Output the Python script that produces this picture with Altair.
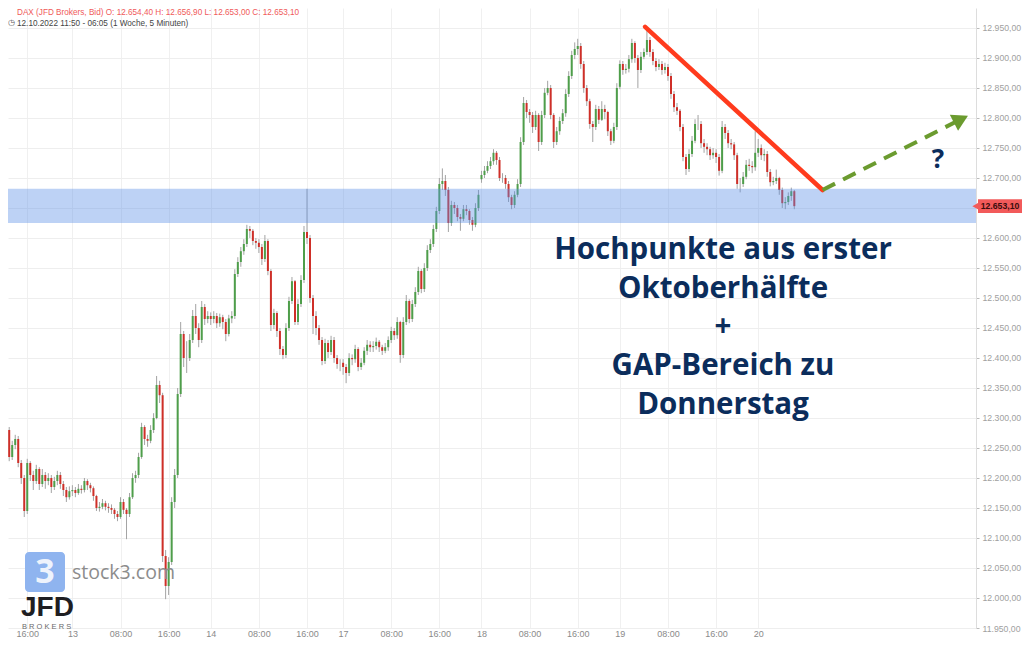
import json
import altair as alt
import pandas as pd

# ---------------- data ----------------
# trading-hour index: 0 = Thu 13.10 00:00, 30-minute candles
day_start_t = [-11.0, 0.0, 23.0, 45.0, 68.0, 91.0, 114.0]
day_open = [12300, 12178, 12470, 12392, 12698, 12852, 12742]

# (close, high, low) per 30-minute candle
bars12 = [(12280, 12305, 12272), (12235, 12285, 12228), (12255, 12262, 12230), (12265, 12272, 12248),
          (12225, 12270, 12218), (12200, 12230, 12190), (12145, 12205, 12135), (12225, 12232, 12140),
          (12205, 12228, 12195), (12195, 12212, 12180), (12215, 12222, 12190), (12190, 12218, 12180),
          (12205, 12215, 12185), (12195, 12210, 12182), (12200, 12208, 12188), (12185, 12205, 12175),
          (12195, 12202, 12180), (12205, 12212, 12188), (12190, 12210, 12182), (12180, 12195, 12170),
          (12168, 12185, 12160), (12178, 12186, 12164)]
bars13 = [(12180, 12188, 12170), (12175, 12185, 12168), (12182, 12190, 12172), (12180, 12188, 12174),
          (12195, 12200, 12176), (12188, 12198, 12180), (12183, 12192, 12176), (12170, 12186, 12162),
          (12150, 12172, 12145), (12152, 12160, 12144), (12158, 12165, 12148), (12152, 12162, 12146),
          (12150, 12158, 12142), (12147, 12156, 12140), (12140, 12150, 12132), (12135, 12145, 12128),
          (12160, 12168, 12132), (12147, 12165, 12140), (12140, 12150, 12098), (12168, 12175, 12135),
          (12200, 12208, 12165), (12205, 12212, 12192), (12235, 12242, 12200), (12285, 12292, 12232),
          (12265, 12288, 12255), (12262, 12272, 12252), (12280, 12288, 12258), (12300, 12308, 12275),
          (12355, 12370, 12298), (12338, 12362, 12325), (12070, 12342, 12060), (12020, 12080, 11998),
          (12060, 12068, 12005), (12160, 12168, 12055), (12205, 12215, 12150), (12340, 12350, 12200),
          (12440, 12460, 12335), (12400, 12445, 12385), (12400, 12428, 12375), (12430, 12440, 12395),
          (12470, 12480, 12425), (12450, 12490, 12440), (12430, 12458, 12418), (12485, 12495, 12425),
          (12465, 12490, 12455), (12470, 12478, 12458)]
bars14 = [(12465, 12476, 12455), (12470, 12478, 12458), (12458, 12475, 12450), (12468, 12474, 12452),
          (12460, 12472, 12448), (12440, 12465, 12428), (12466, 12472, 12436), (12470, 12478, 12458),
          (12540, 12548, 12465), (12560, 12568, 12535), (12578, 12585, 12552), (12590, 12598, 12572),
          (12615, 12622, 12585), (12612, 12620, 12600), (12595, 12615, 12588), (12592, 12600, 12582),
          (12585, 12598, 12575), (12565, 12590, 12555), (12595, 12605, 12560), (12545, 12598, 12538),
          (12455, 12548, 12445), (12475, 12482, 12448), (12445, 12478, 12435), (12415, 12450, 12405),
          (12405, 12420, 12398), (12450, 12458, 12400), (12495, 12502, 12445), (12528, 12535, 12490),
          (12460, 12530, 12455), (12490, 12498, 12455), (12530, 12538, 12485), (12610, 12620, 12525),
          (12600, 12682, 12590), (12500, 12605, 12492), (12470, 12505, 12440), (12450, 12478, 12438),
          (12430, 12455, 12422), (12395, 12435, 12388), (12425, 12432, 12390), (12410, 12430, 12400),
          (12430, 12437, 12405), (12400, 12435, 12392), (12390, 12405, 12382), (12390, 12398, 12378)]
bars17 = [(12385, 12398, 12372), (12375, 12390, 12358), (12400, 12408, 12370), (12398, 12406, 12388),
          (12415, 12422, 12392), (12385, 12418, 12378), (12392, 12400, 12380), (12412, 12418, 12388),
          (12422, 12430, 12405), (12418, 12428, 12410), (12420, 12428, 12410), (12427, 12434, 12414),
          (12418, 12430, 12410), (12412, 12422, 12405), (12418, 12425, 12408), (12430, 12436, 12412),
          (12445, 12452, 12425), (12438, 12450, 12430), (12460, 12468, 12432), (12405, 12462, 12392),
          (12460, 12468, 12400), (12495, 12505, 12455), (12465, 12498, 12458), (12490, 12497, 12460),
          (12510, 12518, 12485), (12545, 12552, 12505), (12515, 12548, 12508), (12550, 12558, 12510),
          (12580, 12588, 12545), (12590, 12598, 12575), (12615, 12622, 12585), (12645, 12652, 12610),
          (12690, 12700, 12640), (12695, 12716, 12680), (12680, 12705, 12670), (12625, 12685, 12610),
          (12655, 12662, 12620), (12650, 12660, 12640), (12635, 12655, 12628), (12632, 12640, 12612),
          (12648, 12655, 12628), (12645, 12655, 12638), (12630, 12648, 12622), (12622, 12635, 12612),
          (12650, 12658, 12618), (12672, 12680, 12645)]
bars18 = [(12705, 12712, 12692), (12712, 12720, 12700), (12720, 12728, 12708), (12728, 12735, 12715),
          (12742, 12748, 12722), (12730, 12745, 12722), (12700, 12735, 12695), (12700, 12708, 12692),
          (12690, 12705, 12682), (12668, 12695, 12660), (12655, 12672, 12648), (12672, 12678, 12650),
          (12690, 12698, 12668), (12760, 12768, 12685), (12825, 12835, 12755), (12810, 12830, 12800),
          (12805, 12815, 12792), (12785, 12810, 12775), (12805, 12812, 12780), (12760, 12808, 12745),
          (12805, 12812, 12755), (12842, 12850, 12800), (12850, 12862, 12838), (12805, 12855, 12798),
          (12760, 12808, 12750), (12778, 12785, 12755), (12795, 12802, 12772), (12808, 12815, 12790),
          (12840, 12848, 12802), (12870, 12878, 12835), (12905, 12912, 12865), (12915, 12926, 12898),
          (12920, 12932, 12905), (12890, 12925, 12882), (12850, 12895, 12842), (12828, 12855, 12820),
          (12790, 12832, 12782), (12785, 12795, 12760), (12815, 12822, 12780), (12797, 12820, 12790),
          (12815, 12828, 12795), (12810, 12822, 12798), (12778, 12812, 12770), (12762, 12782, 12755),
          (12785, 12792, 12758), (12850, 12858, 12780)]
bars19 = [(12890, 12896, 12848), (12880, 12895, 12872), (12882, 12890, 12874), (12898, 12905, 12876),
          (12925, 12932, 12892), (12900, 12928, 12892), (12880, 12905, 12850), (12902, 12910, 12875),
          (12910, 12916, 12898), (12930, 12946, 12905), (12910, 12935, 12902), (12895, 12915, 12888),
          (12885, 12900, 12878), (12890, 12898, 12880), (12880, 12895, 12872), (12885, 12892, 12874),
          (12870, 12890, 12862), (12840, 12875, 12832), (12818, 12845, 12810), (12812, 12825, 12805),
          (12785, 12815, 12778), (12735, 12790, 12728), (12715, 12740, 12705), (12740, 12748, 12710),
          (12762, 12770, 12735), (12790, 12798, 12758), (12790, 12805, 12780), (12758, 12795, 12750),
          (12752, 12765, 12742), (12748, 12758, 12738), (12738, 12752, 12730), (12742, 12750, 12732),
          (12735, 12748, 12725), (12712, 12740, 12704), (12785, 12795, 12708), (12775, 12790, 12765),
          (12758, 12780, 12750), (12756, 12765, 12748), (12738, 12760, 12730), (12690, 12742, 12682),
          (12690, 12700, 12676), (12702, 12710, 12685), (12722, 12730, 12698), (12720, 12732, 12712),
          (12718, 12728, 12708), (12742, 12778, 12712)]
bars20 = [(12750, 12765, 12735), (12738, 12756, 12730), (12740, 12748, 12728), (12710, 12745, 12702),
          (12693, 12715, 12686), (12695, 12702, 12688), (12700, 12714, 12690), (12680, 12702, 12672),
          (12658, 12684, 12650), (12660, 12668, 12648), (12670, 12676, 12655), (12678, 12684, 12662),
          (12653.1, 12680, 12648)]
all_days = [bars12, bars13, bars14, bars17, bars18, bars19, bars20]

tick_t = [-7.5, 0, 8, 16, 23, 31, 39, 45, 53, 61, 68, 76, 84, 91, 99, 107, 114]
tick_lab = ["16:00", "13", "08:00", "16:00", "14", "08:00", "16:00", "17", "08:00", "16:00",
            "18", "08:00", "16:00", "19", "08:00", "16:00", "20"]
price_ticks = list(range(11950, 12951, 50))

band_lo, band_hi = 12625, 12682
trend_t = [95.2, 124.7]
trend_p = [12952, 12680]
arrow_t = [124.7, 147.7]
arrow_p = [12680, 12798]
last_price = 12653.1

header1 = "DAX (JFD Brokers, Bid)  O: 12.654,40  H: 12.656,90  L: 12.653,00  C: 12.653,10"
header2 = "12.10.2022 11:50 - 06:05  (1 Woche, 5 Minuten)"
note_lines = ["Hochpunkte aus erster", "Oktoberhälfte", "+", "GAP-Bereich zu", "Donnerstag"]

# ---------------- build tables ----------------
rows = []
for start, o0, bars in zip(day_start_t, day_open, all_days):
    o = o0
    for i, (c, h, l) in enumerate(bars):
        rows.append({"t": start + 0.5 * i, "open": o, "high": h, "low": l, "close": c})
        o = c
candles = pd.DataFrame(rows)

W, H = 968, 620
xscale = alt.Scale(domain=[-9.87, 149.37], nice=False, zero=False)
yscale = alt.Scale(domain=[11950, 12983.33], nice=False, zero=False)

x_label_expr = "%s[indexof(%s, datum.value)]" % (json.dumps(tick_lab).replace('"', "'"), json.dumps(tick_t))
y_label_expr = ("datum.value == 12650 ? '' : replace(replace(replace(format(datum.value, ',.2f'), "
                "',', '#'), '.', ','), '#', '.')")

xaxis = alt.Axis(values=tick_t, labelExpr=x_label_expr, grid=True, gridColor="#f0f0f0",
                 domain=False, ticks=False, labelColor="#8a8a8a", labelFontSize=9,
                 labelFont="Liberation Sans", labelPadding=1, labelBaseline="top",
                 labelFlush=False, title=None)
yaxis = alt.Axis(values=price_ticks, labelExpr=y_label_expr, orient="right", grid=True,
                 gridColor="#eeeeee", domainColor="#dddddd", tickColor="#bbbbbb", tickSize=3,
                 labelPadding=3, labelColor="#a0a0a0", labelFontSize=8.7, labelFont="Liberation Sans",
                 title=None)


def X(field):
    return alt.X(field, type="quantitative", scale=xscale, axis=xaxis)


def Y(field):
    return alt.Y(field, type="quantitative", scale=yscale, axis=yaxis)


base = alt.Chart(candles)
wicks = base.mark_rule(color="#a3a3a3", strokeWidth=1, clip=True).encode(
    x=X("t"), y=Y("low"), y2="high")
bodies = base.mark_bar(size=2, clip=True).encode(
    x=X("t"), y=Y("open"), y2="close",
    color=alt.condition("datum.close >= datum.open", alt.value("#4e9e4a"), alt.value("#cf2f28")))

band = alt.Chart(pd.DataFrame({"lo": [band_lo], "hi": [band_hi]})).mark_rect(
    color="#5b8ee6", opacity=0.4).encode(x=alt.value(0), x2=alt.value(W), y=Y("lo"), y2="hi")

trend = alt.Chart(pd.DataFrame({"t": trend_t, "p": trend_p})).mark_line(
    color="#ff3b1d", strokeWidth=4.5, strokeCap="round").encode(x=X("t"), y=Y("p"))

arrow = alt.Chart(pd.DataFrame({"t": arrow_t, "p": arrow_p})).mark_line(
    color="#6b9b2f", strokeWidth=4, strokeDash=[14, 9]).encode(x=X("t"), y=Y("p"))
head = alt.Chart(pd.DataFrame({"t": arrow_t[-1:], "p": arrow_p[-1:]})).mark_point(
    shape="triangle-right", filled=True, color="#6b9b2f", opacity=1, size=330, angle=333).encode(
    x=X("t"), y=Y("p"))

notes = alt.Chart(pd.DataFrame({"s": note_lines, "yy": [242, 281, 319, 358, 397]})).mark_text(
    font="Open Sans", fontWeight="bold", fontSize=29.5, color="#0b2d5c", align="center",
    baseline="middle").encode(x=alt.value(715), y=alt.Y("yy:Q", scale=None), text="s")
qmark = alt.Chart(pd.DataFrame({"s": ["?"]})).mark_text(
    font="Open Sans", fontWeight="bold", fontSize=26, color="#0b2d5c", align="center",
    baseline="middle").encode(x=alt.value(930), y=alt.value(152), text="s")

hdr1 = alt.Chart(pd.DataFrame({"s": [header1]})).mark_text(
    font="Liberation Sans", fontSize=8.2, color="#f05a5a", align="left", baseline="top").encode(
    x=alt.value(9), y=alt.value(1), text="s")
hdr2 = alt.Chart(pd.DataFrame({"s": [header2]})).mark_text(
    font="Liberation Sans", fontSize=8.2, color="#444444", align="left", baseline="top").encode(
    x=alt.value(9), y=alt.value(11.5), text="s")
clock = alt.Chart(pd.DataFrame({"s": ["◷"]})).mark_text(
    font="DejaVu Sans", fontSize=8, color="#555555", align="left", baseline="top").encode(
    x=alt.value(0), y=alt.value(11), text="s")

logo_box = alt.Chart(pd.DataFrame({"a": [0]})).mark_rect(
    color="#8fb4ef", cornerRadius=4).encode(x=alt.value(17), x2=alt.value(57), y=alt.value(544),
                                            y2=alt.value(584))
logo3 = alt.Chart(pd.DataFrame({"s": ["3"]})).mark_text(
    font="Open Sans", fontWeight="bold", fontSize=34, color="#ffffff", align="center",
    baseline="middle", opacity=0.85).encode(x=alt.value(37), y=alt.value(565), text="s")
stock3 = alt.Chart(pd.DataFrame({"s": ["stock3.com"]})).mark_text(
    font="Open Sans", fontSize=19.5, color="#8c8c8c", align="left", baseline="middle").encode(
    x=alt.value(64), y=alt.value(565), text="s")
jfd = alt.Chart(pd.DataFrame({"s": ["JFD"]})).mark_text(
    font="Liberation Sans", fontWeight="bold", fontSize=28, color="#1e1e22", align="left",
    baseline="middle").encode(x=alt.value(13), y=alt.value(600), text="s")
brokers = alt.Chart(pd.DataFrame({"s": ["B R O K E R S"]})).mark_text(
    font="Liberation Sans", fontSize=7.5, color="#6a6a6a", align="left", baseline="middle").encode(
    x=alt.value(14), y=alt.value(618.5), text="s")

tag_df = pd.DataFrame({"p": [last_price], "lo": [last_price - 11.5], "hi": [last_price + 11.5],
                       "s": ["12.653,10"]})
tag_rect = alt.Chart(tag_df).mark_rect(color="#f25a5a").encode(
    x=alt.value(970), x2=alt.value(1014), y=Y("lo"), y2="hi")
tag_tip = alt.Chart(tag_df).mark_point(shape="triangle-left", filled=True, color="#f25a5a",
                                       opacity=1, size=70).encode(x=alt.value(968), y=Y("p"))
tag_txt = alt.Chart(tag_df).mark_text(font="Liberation Sans", fontSize=8.7, fontWeight="bold",
                                      color="#3a0d0d", align="center", baseline="middle").encode(
    x=alt.value(992), y=Y("p"), text="s")

chart = alt.layer(
    wicks, bodies, band, trend, arrow, head, notes, qmark, hdr1, hdr2, clock,
    logo_box, logo3, stock3, jfd, brokers, tag_rect, tag_tip, tag_txt
).properties(
    width=W, height=H,
    autosize=alt.AutoSizeParams(type="none"),
    padding={"left": 0, "top": 0, "right": 46, "bottom": 11},
    background="#ffffff",
).configure_view(stroke=None)

chart.save("out.html", embed_options={"renderer": "svg", "actions": False})
